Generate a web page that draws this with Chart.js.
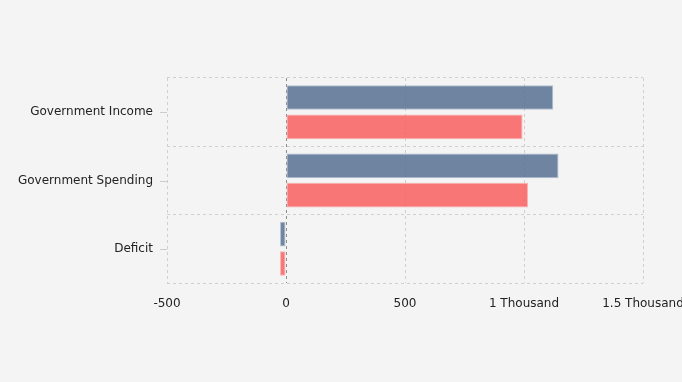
<!DOCTYPE html>
<html>
<head>
<meta charset="utf-8">
<script src="https://cdn.jsdelivr.net/npm/chart.js@4.4.1/dist/chart.umd.min.js"></script>
<style>
  html, body { margin: 0; padding: 0; background: #f4f4f4; overflow: hidden; }
  #wrap { width: 720px; height: 382px; position: relative; }
</style>
</head>
<body>
<div id="wrap"><canvas id="c"></canvas></div>
<script>
const categories = ['Government Income', 'Government Spending', 'Deficit'];
const seriesA = [1123, 1145, -25];
const seriesB = [994, 1017, -25];
const tickLabels = { '-500': '-500', '0': '0', '500': '500', '1000': '1 Thousand', '1500': '1.5 Thousand' };

const centerTicks = {
  id: 'centerTicks',
  afterDraw(chart) {
    const y = chart.scales.y;
    const ctx = chart.ctx;
    ctx.save();
    ctx.strokeStyle = '#cccccc';
    ctx.lineWidth = 1;
    categories.forEach((c, i) => {
      const py = Math.round(y.getPixelForValue(i)) + 0.5;
      ctx.beginPath();
      ctx.moveTo(y.right - 7, py);
      ctx.lineTo(y.right, py);
      ctx.stroke();
    });
    ctx.restore();
  }
};

new Chart(document.getElementById('c'), {
  type: 'bar',
  data: {
    labels: categories,
    datasets: [
      { label: 'Series A', data: seriesA, backgroundColor: 'rgba(86,112,145,0.85)', borderColor: 'rgba(170,185,205,0.9)', borderWidth: 1, borderSkipped: false },
      { label: 'Series B', data: seriesB, backgroundColor: 'rgba(249,95,95,0.85)', borderColor: 'rgba(252,170,170,0.9)', borderWidth: 1, borderSkipped: false }
    ]
  },
  options: {
    indexAxis: 'y',
    responsive: true,
    maintainAspectRatio: false,
    animation: false,
    categoryPercentage: 0.86,
    barPercentage: 0.84,
    layout: { padding: { top: 78, right: 77, bottom: 0, left: 0 } },
    plugins: { legend: { display: false }, tooltip: { enabled: false } },
    scales: {
      x: {
        min: -500, max: 1500,
        afterFit(s) { s.height = 99; },
        grid: {
          drawTicks: false,
          color: (ctx) => ctx.tick && ctx.tick.value === 0 ? '#8c8c8c' : '#cfcfcf',
          lineWidth: 1,
          borderDash: [3, 3]
        },
        border: { display: false, dash: [3, 3] },
        ticks: {
          stepSize: 500,
          padding: 14,
          color: '#222',
          font: { family: 'DejaVu Sans', size: 12 },
          callback: (v) => tickLabels[String(v)] ?? String(v)
        }
      },
      y: {
        afterFit(s) { s.width = 167; },
        border: { display: false, dash: [3, 3] },
        grid: { color: '#cfcfcf', tickColor: 'rgba(0,0,0,0)', tickLength: 7, offset: true, borderDash: [3, 3] },
        ticks: { padding: 7, color: '#222', font: { family: 'DejaVu Sans', size: 12 } }
      }
    }
  },
  plugins: [centerTicks]
});
</script>
</body>
</html>
